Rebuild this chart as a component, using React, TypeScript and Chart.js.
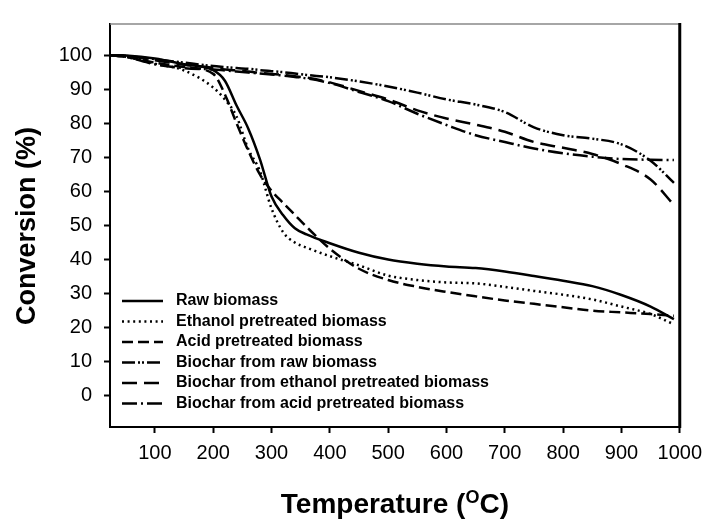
import { useEffect, useRef } from 'react';
import { Chart, registerables } from 'chart.js';

Chart.register(...registerables);

const temperatures = [25, 50, 100, 150, 200, 220, 240, 260, 280, 300, 320, 340, 360, 400, 450, 500, 550, 600, 650, 700, 750, 800, 850, 900, 950, 990];

const rawBiomass = [100, 99.9, 99, 97.3, 95.6, 92.5, 85.2, 78.5, 69.5, 58.5, 53, 49.2, 47.4, 44.8, 42, 40, 38.8, 38, 37.5, 36.5, 35.2, 33.8, 32.2, 29.6, 26.2, 22.5];
const ethanolPretreated = [100, 99.5, 97.5, 95.5, 90.5, 87, 82, 72.5, 66, 55, 48, 45, 43.5, 41, 38.3, 35.3, 34, 33.3, 33, 32, 30.8, 29.7, 28.3, 26.2, 24, 21];
const acidPretreated = [100, 99.5, 97.8, 96.5, 94.5, 88.5, 80, 72, 65, 60.2, 56.6, 53.1, 49.6, 43.2, 37.3, 34, 32, 30.5, 29.2, 28, 27, 26, 25, 24.5, 24, 23.5];
const biocharRaw = [100, 99.8, 98.8, 97.8, 96.8, 96.5, 96.2, 96, 95.6, 95.3, 95, 94.6, 94.2, 93.5, 92.3, 90.8, 89, 87, 85.5, 83.3, 78.8, 76.5, 75.5, 73.8, 69, 62.5];
const biocharEthanol = [100, 99.8, 98.5, 97.2, 96.3, 95.8, 95.5, 95.2, 94.8, 94.5, 94.2, 93.8, 93.4, 92, 89.5, 87, 83.8, 81.4, 79.6, 77.5, 74.5, 72.8, 71, 68, 63.5, 56];
const biocharAcid = [100, 99.5, 97.3, 96.2, 95.8, 95.5, 95.2, 94.9, 94.6, 94.3, 94, 93.6, 93.2, 91.8, 89.2, 86.5, 82.8, 79.5, 76.5, 74.5, 72.6, 71.2, 70.2, 69.5, 69.3, 69.2];

const seriesNames = [
  'Raw biomass',
  'Ethanol pretreated biomass',
  'Acid pretreated biomass',
  'Biochar from raw biomass',
  'Biochar from ethanol pretreated biomass',
  'Biochar from acid pretreated biomass',
];
const seriesValues = [rawBiomass, ethanolPretreated, acidPretreated, biocharRaw, biocharEthanol, biocharAcid];
const seriesDashes: number[][] = [[], [2, 3.6], [11, 5], [13, 3, 2, 2, 2, 3], [15, 7], [15, 4, 2, 4]];

const xTicks = [100, 200, 300, 400, 500, 600, 700, 800, 900, 1000];
const yTicks = [0, 10, 20, 30, 40, 50, 60, 70, 80, 90, 100];

const FONT = "'Liberation Sans', Arial, sans-serif";

const framePlugin = {
  id: 'frame',
  afterDraw(chart: any) {
    const { ctx, chartArea } = chart;
    ctx.save();
    ctx.strokeStyle = '#888';
    ctx.lineWidth = 1.5;
    ctx.beginPath();
    ctx.moveTo(chartArea.left, chartArea.top);
    ctx.lineTo(chartArea.right, chartArea.top);
    ctx.stroke();
    ctx.strokeStyle = '#000';
    ctx.lineWidth = 3;
    ctx.beginPath();
    ctx.moveTo(chartArea.right, chartArea.top - 1);
    ctx.lineTo(chartArea.right, chartArea.bottom + 1);
    ctx.stroke();

    // y title
    ctx.fillStyle = '#000';
    ctx.font = `bold 27px ${FONT}`;
    ctx.textAlign = 'center';
    ctx.textBaseline = 'middle';
    ctx.save();
    ctx.translate(28, 226);
    ctx.rotate(-Math.PI / 2);
    ctx.fillText('Conversion (%)', 0, 0);
    ctx.restore();

    // x title with superscript O
    const partA = 'Temperature (';
    const partB = 'O';
    const partC = 'C)';
    ctx.font = `bold 28px ${FONT}`;
    const wA = ctx.measureText(partA).width;
    const wC = ctx.measureText(partC).width;
    ctx.font = `bold 18px ${FONT}`;
    const wB = ctx.measureText(partB).width;
    const total = wA + wB + wC;
    const cx = (chartArea.left + chartArea.right) / 2;
    let x = cx - total / 2;
    const baseY = 513;
    ctx.textAlign = 'left';
    ctx.textBaseline = 'alphabetic';
    ctx.font = `bold 28px ${FONT}`;
    ctx.fillText(partA, x, baseY);
    x += wA;
    ctx.font = `bold 18px ${FONT}`;
    ctx.fillText(partB, x, baseY - 10);
    x += wB;
    ctx.font = `bold 28px ${FONT}`;
    ctx.fillText(partC, x, baseY);

    // legend
    ctx.font = `bold 16px ${FONT}`;
    ctx.textBaseline = 'middle';
    seriesNames.forEach((name, i) => {
      const y = 301 + i * 20.5;
      ctx.save();
      ctx.strokeStyle = '#000';
      ctx.lineWidth = 2.5;
      ctx.lineCap = 'butt';
      ctx.setLineDash(seriesDashes[i]);
      ctx.beginPath();
      ctx.moveTo(122, y);
      ctx.lineTo(163, y);
      ctx.stroke();
      ctx.restore();
      ctx.fillText(name, 176, y);
    });
    ctx.restore();
  },
};

export default function App() {
  const ref = useRef<HTMLCanvasElement | null>(null);
  useEffect(() => {
    document.body.style.margin = '0';
    if (!ref.current) return;
    const chart = new Chart(ref.current, {
      type: 'line',
      data: {
        datasets: seriesNames.map((name, i) => ({
          label: name,
          data: temperatures.map((t, j) => ({ x: t, y: seriesValues[i][j] })),
          borderColor: '#000',
          borderWidth: 2.5,
          borderDash: seriesDashes[i],
          borderCapStyle: 'butt',
          pointRadius: 0,
          fill: false,
          cubicInterpolationMode: 'monotone',
        })),
      },
      options: {
        animation: false,
        responsive: false,
        devicePixelRatio: 1,
        layout: { padding: { top: 13, right: 28, left: 0, bottom: 0 } },
        plugins: { legend: { display: false }, tooltip: { enabled: false }, title: { display: false } },
        scales: {
          x: {
            type: 'linear',
            min: 23,
            max: 1000,
            afterBuildTicks: (s: any) => { s.ticks = xTicks.map((v) => ({ value: v })); },
            afterFit: (s: any) => { s.height = 97; },
            ticks: { color: '#000', font: { family: FONT, size: 20 }, padding: 8, maxRotation: 0, autoSkip: false, callback: (v: any) => String(v) },
            grid: { drawOnChartArea: false, drawTicks: true, tickLength: 6, tickColor: '#000', tickWidth: 2 },
            border: { display: true, color: '#000', width: 2 },
          },
          y: {
            type: 'linear',
            min: -9.14,
            max: 109.14,
            afterBuildTicks: (s: any) => { s.ticks = yTicks.map((v) => ({ value: v })); },
            afterFit: (s: any) => { s.width = 110; },
            ticks: { color: '#000', font: { family: FONT, size: 20 }, padding: 12, callback: (v: any) => String(v) },
            grid: { drawOnChartArea: false, drawTicks: true, tickLength: 6, tickColor: '#000', tickWidth: 2 },
            border: { display: true, color: '#000', width: 2 },
          },
        },
      },
      plugins: [framePlugin],
    } as any);
    return () => chart.destroy();
  }, []);
  return (
    <div style={{ width: 710, height: 524, background: '#fff' }}>
      <canvas ref={ref} width={710} height={524} style={{ display: 'block' }} />
    </div>
  );
}
